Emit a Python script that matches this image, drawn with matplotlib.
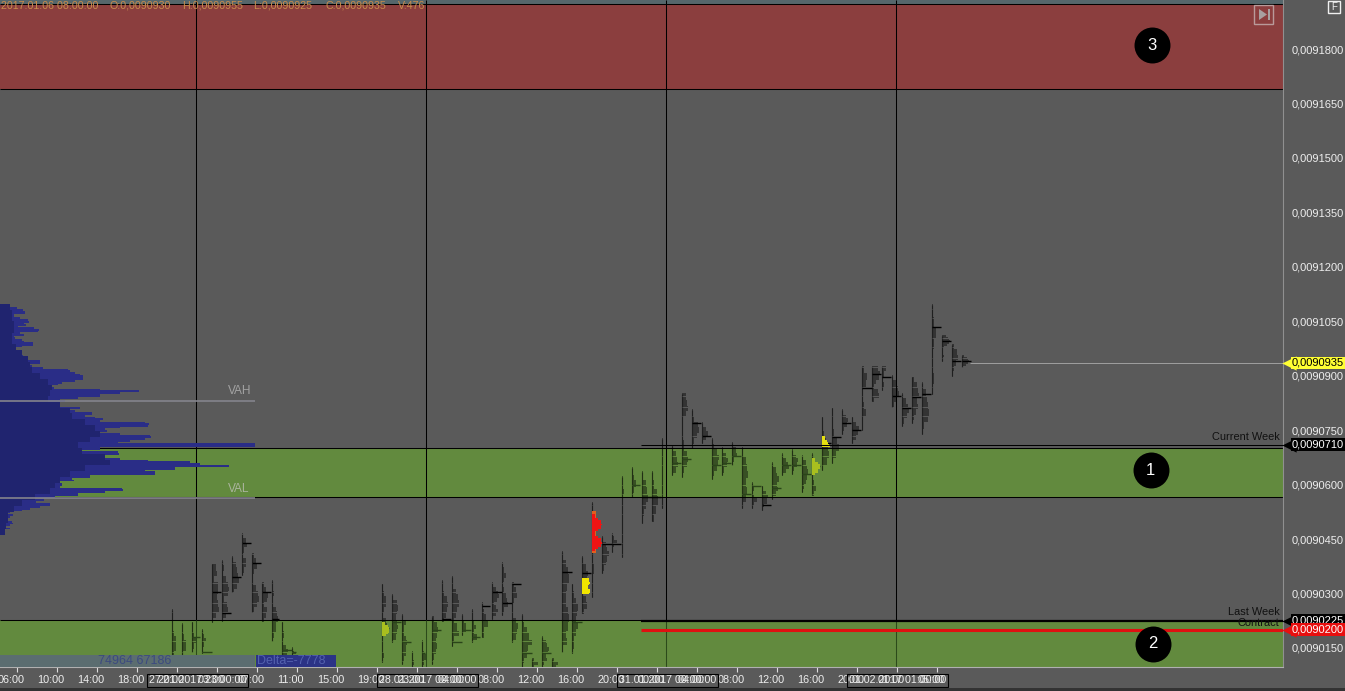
import numpy as np
import matplotlib
matplotlib.use("Agg")
import matplotlib.pyplot as plt
from matplotlib.patches import Rectangle, Polygon
from matplotlib.transforms import ScaledTranslation

plt.rcParams['font.family'] = ['Liberation Sans', 'DejaVu Sans']

W, H = 1345, 691

# prices are in units of 0.0000001
tick_prices = [90150, 90300, 90450, 90600, 90750, 90900, 91050, 91200, 91350, 91500, 91650, 91800]
tick_hours = list(range(0, 96, 4))
tick_labels = ["06:00", "10:00", "14:00", "18:00", "22:00", "03:00", "07:00", "11:00", "15:00", "19:00",
               "23:00", "04:00", "08:00", "12:00", "16:00", "20:00", "00:00", "04:00", "08:00", "12:00",
               "16:00", "20:00", "01:00", "05:00"]
session_hours = [17.93, 40.93, 64.93, 87.93]
session_labels = ["27.01.2017 23:00:00", "28.01.2017 00:00:00", "31.01.2017 00:00:00", "01.02.2017 01:00:00"]

zone_low = [91690, 90566, 90097]
zone_high = [91921, 90701, 90227]
zone_colors = ["#8b3e3e", "#628a3e", "#628a3e"]
zone_names = ["3", "1", "2"]
zone_badge_price = [91811, 90640, 90161]

col_hours = list(range(15, 28)) + list(range(36, 95))
col_high = [90255, 90215, 90220, 90200, 90380, 90390, 90400, 90465, 90410, 90330, 90335, 90220, 90150,
            90325, 90295, 90240, 90140, 90170, 90235, 90335, 90345, 90240, 90255,
            90275, 90330, 90385, 90330, 90240, 90120, 90180, 90120, 90415, 90325,
            90400, 90550, 90455, 90465, 90620, 90645, 90635, 90635, 90725, 90705,
            90850, 90805, 90770, 90725, 90700, 90715, 90700, 90605, 90595, 90660,
            90685, 90695, 90680, 90685, 90785, 90810, 90805, 90785, 90925, 90925,
            90925, 90900, 90850, 90895, 90880, 91095, 91010, 90985, 90955]
col_low = [90130, 90130, 90140, 90135, 90220, 90225, 90305, 90350, 90250, 90225, 90170, 90130, 90130,
           90110, 90165, 90105, 90095, 90095, 90105, 90225, 90155, 90185, 90165,
           90180, 90230, 90240, 90165, 90095, 90095, 90095, 90095, 90140, 90135,
           90245, 90290, 90355, 90415, 90400, 90565, 90495, 90500, 90535, 90625,
           90620, 90700, 90715, 90615, 90625, 90655, 90535, 90535, 90530, 90560,
           90625, 90630, 90580, 90570, 90640, 90660, 90740, 90715, 90750, 90830,
           90860, 90815, 90760, 90770, 90740, 90850, 90940, 90900, 90925]
col_poc = [90180, 90170, 90180, 90140, 90305, 90245, 90345, 90440, 90385, 90305, 90230, 90145, 90140,
           90205, 90220, 90165, 90115, 90135, 90200, 90230, 90165, 90200, 90180,
           90265, 90305, 90275, 90325, 90135, 90110, 90135, 90110, 90360, 90220,
           90355, 90405, 90435, 90435, 90435, 90600, 90565, 90565, 90630, 90660,
           90670, 90770, 90735, 90655, 90660, 90680, 90575, 90595, 90545, 90590,
           90655, 90655, 90630, 90650, 90715, 90730, 90770, 90750, 90865, 90905,
           90895, 90845, 90810, 90840, 90850, 91035, 90995, 90940, 90940]
col_poc_tpo = [0, 0, 8, 10, 9, 9, 9, 9, 9, 9, 7, 10, 4,
               7, 9, 9, 0, 3, 9, 9, 10, 9, 8,
               8, 10, 10, 9, 10, 0, 9, 0, 10, 10,
               9, 0, 10, 9, 0, 8, 10, 9, 0, 9,
               9, 9, 9, 9, 9, 9, 9, 9, 9, 9,
               9, 9, 9, 8, 9, 9, 9, 9, 10, 9,
               9, 9, 9, 9, 9, 9, 9, 9, 9]
# rough TPO counts from the top of each column to the bottom
col_tpo = [
    [1, 1, 1, 2, 3, 3, 2], [1, 1, 2, 3, 3, 1], [1, 1, 2, 3, 2, 1], [1, 2, 3, 2, 1, 1],
    [3, 4, 2, 5, 5, 4, 5, 6, 3, 1], [1, 2, 1, 3, 5, 6, 5, 2, 4, 5, 3, 1], [1, 3, 4, 5, 6, 4, 2],
    [1, 3, 4, 2, 1, 3, 3, 2, 1], [2, 3, 4, 2, 1, 1, 3, 5, 6, 4, 2], [2, 3, 5, 4, 2, 4, 3, 2],
    [1, 1, 2, 1, 1, 3, 4, 5, 3, 3, 2, 1], [1, 1, 2, 2, 1, 1, 3, 5, 4], [1, 2, 3, 1],
    [1, 2, 3, 3, 2, 1, 3, 4, 2, 1, 1, 1, 2, 1], [1, 4, 5, 4, 3, 4, 5, 4, 3, 1], [1, 3, 2, 2, 3, 4, 3, 3, 2, 1],
    [1, 1, 2, 1], [1, 1, 2, 3, 2, 1], [2, 4, 5, 4, 3, 4, 3, 2, 1], [1, 1, 2, 4, 5, 4, 3, 2],
    [1, 1, 3, 5, 6, 4, 3, 2, 4, 6, 2, 1], [1, 2, 3, 3, 1], [1, 1, 2, 3, 2, 4, 1],
    [1, 2, 3, 5, 2, 2], [1, 3, 5, 6, 4, 2, 3, 5, 3, 1], [1, 2, 3, 2, 1, 2, 3, 4, 5, 2, 1],
    [2, 3, 4, 2, 1, 1, 1, 3, 5, 4, 3, 1], [1, 2, 4, 6, 8, 5, 4, 2, 1], [2, 5, 2], [1, 3, 4, 6, 5, 3, 4, 2, 1],
    [2, 5, 3], [1, 3, 5, 6, 4, 3, 3, 5, 6, 5, 3, 4, 1], [1, 2, 3, 5, 4, 3, 5, 3, 2, 2, 1],
    [1, 3, 5, 4, 3, 1, 3, 4, 2], [1, 1, 2, 2, 1, 2, 1, 1], [1, 3, 4, 6, 4, 3, 2, 1], [1, 2, 4, 2, 1, 1],
    [1, 1, 2, 1, 1, 1, 1, 1, 1, 1, 1, 1, 1, 1], [1, 2, 3, 2, 1], [1, 3, 4, 5, 3, 2, 1], [1, 2, 4, 5, 3, 2],
    [1, 1, 1, 1, 1, 1, 1, 1, 1], [1, 3, 4, 5, 3, 1], [3, 4, 5, 3, 1, 1, 1, 1, 2, 2, 4, 5, 4, 2, 1],
    [1, 2, 5, 6, 4, 2, 1], [1, 3, 5, 3, 1], [1, 2, 4, 6, 5, 4, 2, 1], [1, 3, 5, 4, 2, 1], [1, 3, 4, 2, 1],
    [1, 3, 4, 5, 3, 4, 3, 1], [1, 2, 1, 2, 4, 2, 1], [1, 3, 5, 4, 2, 1], [1, 3, 4, 6, 4, 5, 3, 1],
    [1, 3, 5, 6, 3, 1], [1, 3, 5, 4, 2, 1], [1, 3, 4, 5, 4, 3, 2, 1], [1, 1, 1, 2, 1, 2, 3, 2], [1, 1, 2, 3, 5, 6, 4, 1],
    [1, 1, 1, 2, 4, 6, 3, 1], [1, 3, 5, 4, 2, 1], [1, 3, 6, 5, 3, 1], [2, 4, 3, 1, 1, 2, 3, 1, 1],
    [5, 7, 6, 3, 2, 5, 6, 2], [3, 2, 1, 2, 1], [1, 3, 5, 6, 4, 2], [1, 3, 5, 6, 4, 2, 1],
    [2, 4, 5, 6, 4, 5, 3, 2, 1], [1, 3, 4, 5, 6, 5, 2, 1], [1, 2, 3, 2, 1, 1, 2, 1],
    [3, 5, 6, 7, 6, 4, 2, 1, 1, 1, 1, 2, 1, 1, 1], [2, 4, 5, 3, 2, 1], [2, 4, 5, 6, 5, 3, 1], [1, 3, 2],
]

# volume profile on the left, top row to bottom row
vp_top, vp_bottom = 91090, 90470
vp_volume = [10, 17, 23, 25, 25, 14, 14, 20, 28, 29, 24, 26, 18, 34, 39, 38, 20, 24, 14, 15,
             22, 24, 33, 33, 22, 16, 12, 16, 12, 22, 23, 16, 14, 40, 40, 28, 32, 43, 68, 70,
             75, 80, 83, 83, 83, 75, 62, 58, 52, 54, 100, 139, 120, 100, 100, 78, 60, 65, 50, 60,
             50, 80, 65, 75, 92, 92, 85, 95, 103, 100, 145, 149, 148, 120, 105, 107, 100, 120, 150, 151,
             145, 130, 118, 255, 255, 100, 100, 78, 118, 119, 100, 105, 120, 148, 190, 200, 229, 175, 175, 145,
             155, 155, 90, 90, 72, 74, 46, 62, 62, 60, 122, 123, 105, 78, 78, 55, 30, 44, 36, 50,
             50, 40, 30, 22, 10, 3, 13, 10, 5, 5, 12, 13, 10, 6, 10, 5, 2]
vp_core = [10, 12, 12, 14, 14, 12, 12, 16, 22, 28, 30, 32, 40, 48, 52, 50, 48, 60, 70, 72,
           85, 95, 100, 90, 78, 82, 105, 110, 85, 70, 60, 55, 50, 35, 22, 14, 8, 8, 6, 5]
vah, val = 90830, 90563

current_week, last_week, contract, last_price = 90710, 90225, 90200, 90935

fig = plt.figure(figsize=(W / 100, H / 100), dpi=100, facecolor="#5a5a5a")
ax = fig.add_axes([0, 1 - 667 / H, 1283 / W, 667 / H], facecolor="#5a5a5a")
ax.set_xlim(-1.67, 126.63)
ax.set_ylim(90097.4, 91935)

for low, high, color in zip(zone_low, zone_high, zone_colors):
    ax.axhspan(low, high, color=color, lw=0, zorder=1)
ax.axhspan(91921, 91935, color="#55666b", lw=0, zorder=1)
ax.hlines([91923, 91690, 90701, 90566, 90227], -1.67, 126.63, color="black", lw=0.75, zorder=2)
for s in session_hours:
    ax.vlines(s, 90227, 91935, color="black", lw=0.75, zorder=2)
    ax.vlines(s, 90097, 90227, color="#2c4a1a", lw=0.75, zorder=2)

# market profile columns
stem = 0.53
tpo_scale = 0.12
for h, low, high, poc, w, tpo in zip(col_hours, col_low, col_high, col_poc, col_poc_tpo, col_tpo):
    levels = np.arange(low, high + 1, 5)
    idx = ((high - levels) / (high - low + 5) * len(tpo)).astype(int)
    widths = np.array(tpo)[idx] * tpo_scale
    ax.vlines(h + stem, low, high, color="black", alpha=0.4, lw=0.9, zorder=3)
    ax.barh(levels, widths, height=4.6, left=h + stem, color="black", alpha=0.42, lw=0, zorder=3)
    if w:
        in_green = zone_low[1] <= poc <= zone_high[1] or poc <= zone_high[2]
        ax.hlines(poc, h + stem - 0.05, h + stem + w * 0.1, color="#2a4519" if in_green else "black",
                  lw=1.0, zorder=4)

# highlighted prints
hl_hours = [36, 56, 57, 57, 57, 79, 80]
hl_high = [90220, 90340, 90525, 90515, 90465, 90670, 90730]
hl_low = [90185, 90300, 90415, 90470, 90420, 90630, 90705]
hl_colors = ["#a9bf1f", "#f2e600", "#e0601e", "#f01414", "#f01414", "#a9bf1f", "#e6e010"]
hl_tpo = [[3, 6, 7, 7, 6, 4], [7, 8, 7, 6, 8, 8, 7], [4, 5, 5, 4, 5, 5, 4], [3, 6, 9, 10, 9, 6, 3], [3, 6, 9, 10, 9, 6, 3],
          [3, 6, 8, 8, 6, 3], [3, 5, 6, 7, 8]]
for h, low, high, color, tpo in zip(hl_hours, hl_low, hl_high, hl_colors, hl_tpo):
    levels = np.arange(low, high + 1, 5)
    idx = ((high - levels) / (high - low + 5) * len(tpo)).astype(int)
    ax.barh(levels, np.array(tpo)[idx] * 0.1, height=5.2, left=h + stem, color=color, lw=0, zorder=5)

# key levels
ax.hlines(current_week, 62.43, 126.63, color="black", lw=0.75, zorder=6)
ax.hlines(last_week, 62.43, 126.63, color="black", lw=1.6, zorder=6)
ax.hlines(contract, 62.43, 126.63, color="#e01010", lw=2.2, zorder=6)
ax.hlines(last_price, 95.3, 126.63, color="#a0a0a0", lw=0.7, zorder=6)
ax.text(126.3, current_week + 6, "Current Week", ha="right", va="bottom", fontsize=7.9, color="#111111", zorder=7)
ax.text(126.3, last_week + 11, "Last Week", ha="right", va="bottom", fontsize=7.9, color="#111111", zorder=7)
ax.text(126.3, contract + 6, "Contract", ha="right", va="bottom", fontsize=7.9, color="#111111", zorder=7)

# delta strip
ax.add_patch(Rectangle((-1.67, 90097.4), 25.5, 33, fc="#5b6d70", ec="none", zorder=3.5))
ax.add_patch(Rectangle((23.9, 90097.4), 8, 33, fc="#2b3386", ec="none", zorder=3.5))
ax.text(11.8, 90114, "74964 67186", ha="center", va="center", fontsize=9, color="#3c4a80", zorder=4)
ax.text(27.5, 90114, "Delta=-7778", ha="center", va="center", fontsize=9, color="#5361ae", zorder=4)

# numbered badges
badge_x = [113.5, 113.4, 113.6]
ax.scatter(badge_x, zone_badge_price, s=670, color="black", zorder=8, lw=0)
for x, y, name in zip(badge_x, zone_badge_price, zone_names):
    ax.text(x, y, name, ha="center", va="center", fontsize=12, color="white", zorder=9)

# header line
header_items = ["2017.01.06 08:00:00", "O:0,0090930", "H:0,0090955", "L:0,0090925", "C:0,0090935", "V:476"]
header_px = [1, 110, 182, 253, 325, 398]
for x, item in zip(header_px, header_items):
    fig.text(x / W, 1 - 6 / H, item, ha="left", va="center", fontsize=7.7, color="#c98c4c", zorder=10)

# axes, ticks and labels
ax.yaxis.tick_right()
ax.set_yticks(tick_prices)
ax.set_yticklabels([f"0,{p:07d}" for p in tick_prices], fontsize=8, color="#eeeeee")
ax.tick_params(axis="y", length=0, pad=6.5)
ax.set_xticks(tick_hours)
ax.set_xticklabels(tick_labels, fontsize=7.8, color="#eeeeee")
ax.tick_params(axis="x", length=3.6, width=0.8, color="#dddddd", pad=2)
shift = ScaledTranslation(-0.06, 0, fig.dpi_scale_trans)
for label in ax.get_xticklabels():
    label.set_transform(label.get_transform() + shift)
for side in ["left", "top"]:
    ax.spines[side].set_visible(False)
ax.spines["right"].set_color("#909090")
ax.spines["bottom"].set_color("#b0b0b0")

for s, text in zip(session_hours, session_labels):
    ax.annotate(text, xy=(s + 0.15, 0), xycoords=("data", "axes fraction"), xytext=(0, -9.5),
                textcoords="offset points", ha="center", va="center", fontsize=7.7, color="#eeeeee",
                bbox=dict(boxstyle="square,pad=0.15", fc="none", ec="black", lw=0.8), annotation_clip=False)

# price tags on the axis
tag_prices = [last_price, current_week, last_week, contract]
tag_colors = ["#ffff33", "black", "black", "#e80f0f"]
tag_text = ["black", "white", "white", "white"]
yt = ax.get_yaxis_transform()
for p, c, tc in zip(tag_prices, tag_colors, tag_text):
    ax.text(1 + 9 / 1283, p, f"0,{p:07d}", transform=yt, ha="left", va="center", fontsize=8, color=tc,
            bbox=dict(boxstyle="square,pad=0.12", fc=c, ec="none"), clip_on=False, zorder=11)
    ax.scatter([1 + 6 / 1283], [p], marker="<", s=105, color=c, transform=yt, clip_on=False, lw=0, zorder=10)

# volume profile sits on its own scale
ax_vp = ax.twiny()
ax_vp.set_xlim(0, 1283)
ax_vp.axis("off")
vp_y = np.linspace(vp_top, vp_bottom, len(vp_volume))
ax_vp.barh(vp_y, vp_volume, height=5.2, color="#2a2d87", lw=0)
vp_y2 = np.linspace(vp_top, vp_bottom, len(vp_core))
ax_vp.barh(vp_y2, vp_core, height=16, color="#20246f", lw=0)
ax_vp.hlines([vah, val], 0, 255, color="#84848c", lw=1.2)
ax_vp.text(240, vah + 27, "VAH", ha="center", va="center", fontsize=8.6, color="#a2a2a2")
ax_vp.text(239, val + 25, "VAL", ha="center", va="center", fontsize=8.6, color="#aab49c")

# window furniture in pixel positions
def px_rect(x0, y0, x1, y1, **kw):
    fig.add_artist(Rectangle((x0 / W, 1 - y1 / H), (x1 - x0) / W, (y1 - y0) / H, transform=fig.transFigure, **kw))

px_rect(0, 688, W, H, fc="#333333", ec="none")
px_rect(1254, 5, 1273, 24, fc="none", ec="#b99a9a", lw=1)
fig.add_artist(Polygon([(1259 / W, 1 - 9 / H), (1259 / W, 1 - 20 / H), (1267 / W, 1 - 14.5 / H)],
                       transform=fig.transFigure, fc="#a8a0a0", ec="none"))
px_rect(1267.5, 9, 1269.5, 20, fc="#a8a0a0", ec="none")
px_rect(1328, 1, 1340, 13, fc="none", ec="#f0f0f0", lw=1)
fig.text(1334 / W, 1 - 7.5 / H, "F", ha="center", va="center", fontsize=7, color="#f0f0f0")

fig.savefig("out.png", dpi=100, facecolor=fig.get_facecolor())
